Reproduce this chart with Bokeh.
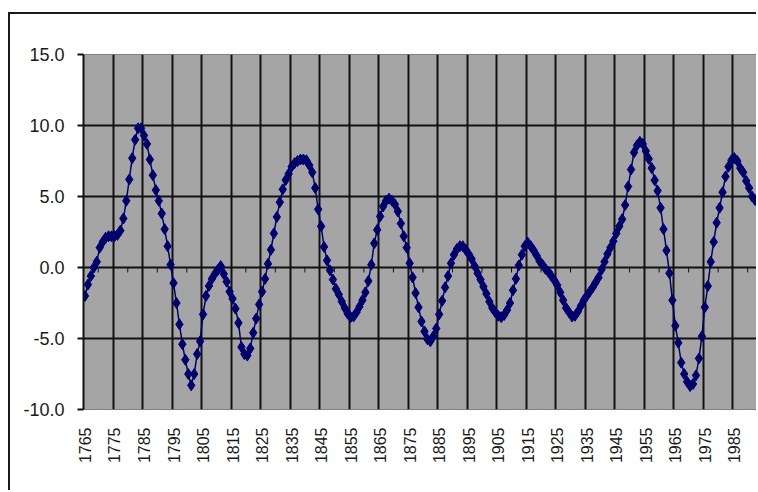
import math
from bokeh.plotting import figure
from bokeh.models import FixedTicker, Range1d, PrintfTickFormatter
from bokeh.embed import file_html
from bokeh.resources import INLINE

start_year = 1765
values = [
    -2.0, -1.2, -0.6, 0.0, 0.4, 1.4, 1.8, 2.1, 2.2, 2.2,
    2.2, 2.3, 2.6, 3.45, 4.7, 6.2, 7.7, 9.0, 9.8, 9.8,
    9.3, 8.7, 7.6, 6.5, 5.45, 4.7, 3.8, 2.7, 1.5, 0.2,
    -1.1, -2.5, -4.0, -5.4, -6.5, -7.5, -8.3, -7.5, -6.1, -5.2,
    -3.3, -2.0, -1.3, -0.8, -0.45, -0.17, 0.1, -0.45, -1.0, -1.7,
    -2.2, -2.9, -3.9, -5.6, -6.1, -6.2, -5.7, -4.6, -3.6, -2.6,
    -1.7, -0.8, 0.26, 1.25, 2.4, 3.56, 4.6, 5.5, 6.16, 6.6,
    7.1, 7.35, 7.5, 7.6, 7.6, 7.55, 7.2, 6.7, 5.6, 4.1,
    2.9, 1.45, 0.5, -0.2, -0.85, -1.5, -1.9, -2.4, -2.85, -3.25,
    -3.5, -3.45, -3.15, -2.75, -2.3, -1.75, -0.95, 0.2, 1.7, 2.65,
    3.6, 4.3, 4.7, 4.85, 4.7, 4.45, 3.95, 3.1, 2.2, 1.4,
    0.3, -0.7, -1.8, -2.8, -3.8, -4.5, -5.05, -5.2, -4.85, -4.3,
    -3.3, -2.35, -1.4, -0.6, 0.3, 0.9, 1.3, 1.5, 1.5, 1.25,
    0.95, 0.6, 0.1, -0.4, -0.85, -1.35, -1.85, -2.4, -2.85, -3.15,
    -3.4, -3.5, -3.35, -3.0, -2.5, -1.6, -0.8, 0.15, 0.9, 1.5,
    1.75, 1.5, 1.2, 0.85, 0.45, 0.2, -0.1, -0.3, -0.6, -0.9,
    -1.25, -1.75, -2.3, -2.85, -3.15, -3.45, -3.4, -3.1, -2.7, -2.3,
    -2.0, -1.7, -1.4, -1.05, -0.7, -0.15, 0.4, 0.95, 1.4, 1.85,
    2.4, 2.9, 3.4, 4.4, 5.7, 6.9, 8.1, 8.6, 8.85, 8.7,
    8.2, 7.65, 7.0, 6.15, 5.4, 4.2, 2.7, 1.2, -0.4, -2.3,
    -4.1, -5.3, -6.7, -7.5, -8.05, -8.35, -8.2, -7.6, -6.4, -4.85,
    -2.8, -1.3, 0.4, 1.8, 3.15, 4.2, 5.3, 6.4, 7.1, 7.55,
    7.7, 7.5, 7.0, 6.7, 6.1, 5.6, 5.0, 4.75,
]
years = [start_year + i for i in range(len(values))]
label_years = list(range(1765, 1986, 10))
grid_bounds = [y - 0.5 for y in range(1775, 1986, 10)]
zero_marks = [y - 0.5 for y in range(1770, 1991, 10)]
y_ticks = [-10, -5, 0, 5, 10, 15]

NAVY = "#000070"
FONT = "Liberation Sans"

p = figure(width=748, height=478, output_backend="svg", toolbar_location=None,
           x_range=Range1d(years[0] - 0.5, years[-1] + 0.5),
           y_range=Range1d(-10, 15),
           min_border_left=73, min_border_top=40, min_border_right=2,
           min_border_bottom=83,
           background_fill_color="#a5a5a5", border_fill_color="white",
           outline_line_color="#808080", outline_line_width=1)
p.styles = {"border-top": "2px solid #1a1a1a", "border-left": "2px solid #1a1a1a",
            "margin-top": "12px", "margin-left": "8px"}

# grids
p.xgrid.ticker = FixedTicker(ticks=grid_bounds)
p.xgrid.grid_line_color = "#111111"
p.xgrid.grid_line_width = 2
p.ygrid.ticker = FixedTicker(ticks=y_ticks)
p.ygrid.grid_line_color = "#111111"
p.ygrid.grid_line_width = 2

# y axis
p.yaxis.ticker = FixedTicker(ticks=y_ticks)
p.yaxis.formatter = PrintfTickFormatter(format="%.1f")
p.yaxis.axis_line_color = "#111111"
p.yaxis.axis_line_width = 2
p.yaxis.major_tick_line_color = "#111111"
p.yaxis.major_tick_line_width = 2
p.yaxis.major_tick_out = 6
p.yaxis.major_tick_in = 0
p.yaxis.minor_tick_line_color = None
p.yaxis.major_label_standoff = 13
p.yaxis.major_label_text_font = FONT
p.yaxis.major_label_text_font_size = "18px"
p.yaxis.major_label_text_color = "#1a1a1a"

# x axis
p.xaxis.ticker = FixedTicker(ticks=label_years)
p.xaxis.axis_line_color = None
p.xaxis.major_tick_line_color = None
p.xaxis.minor_tick_line_color = None
p.xaxis.major_tick_out = 0
p.xaxis.major_tick_in = 0
p.xaxis.major_label_orientation = math.pi / 2
p.xaxis.major_label_standoff = 18
p.xaxis.major_label_text_font = FONT
p.xaxis.major_label_text_font_size = "16px"
p.xaxis.major_label_text_color = "#1a1a1a"

# small category tick marks on the zero line
p.segment(x0=zero_marks, y0=[0] * len(zero_marks), x1=zero_marks,
          y1=[-0.35] * len(zero_marks), line_color="#111111", line_width=1)

p.line(years, values, line_color=NAVY, line_width=1.5)
p.scatter(years, values, marker="diamond", size=11, fill_color=NAVY,
          line_color=NAVY)

open("out.html", "w").write(file_html(p, INLINE))
